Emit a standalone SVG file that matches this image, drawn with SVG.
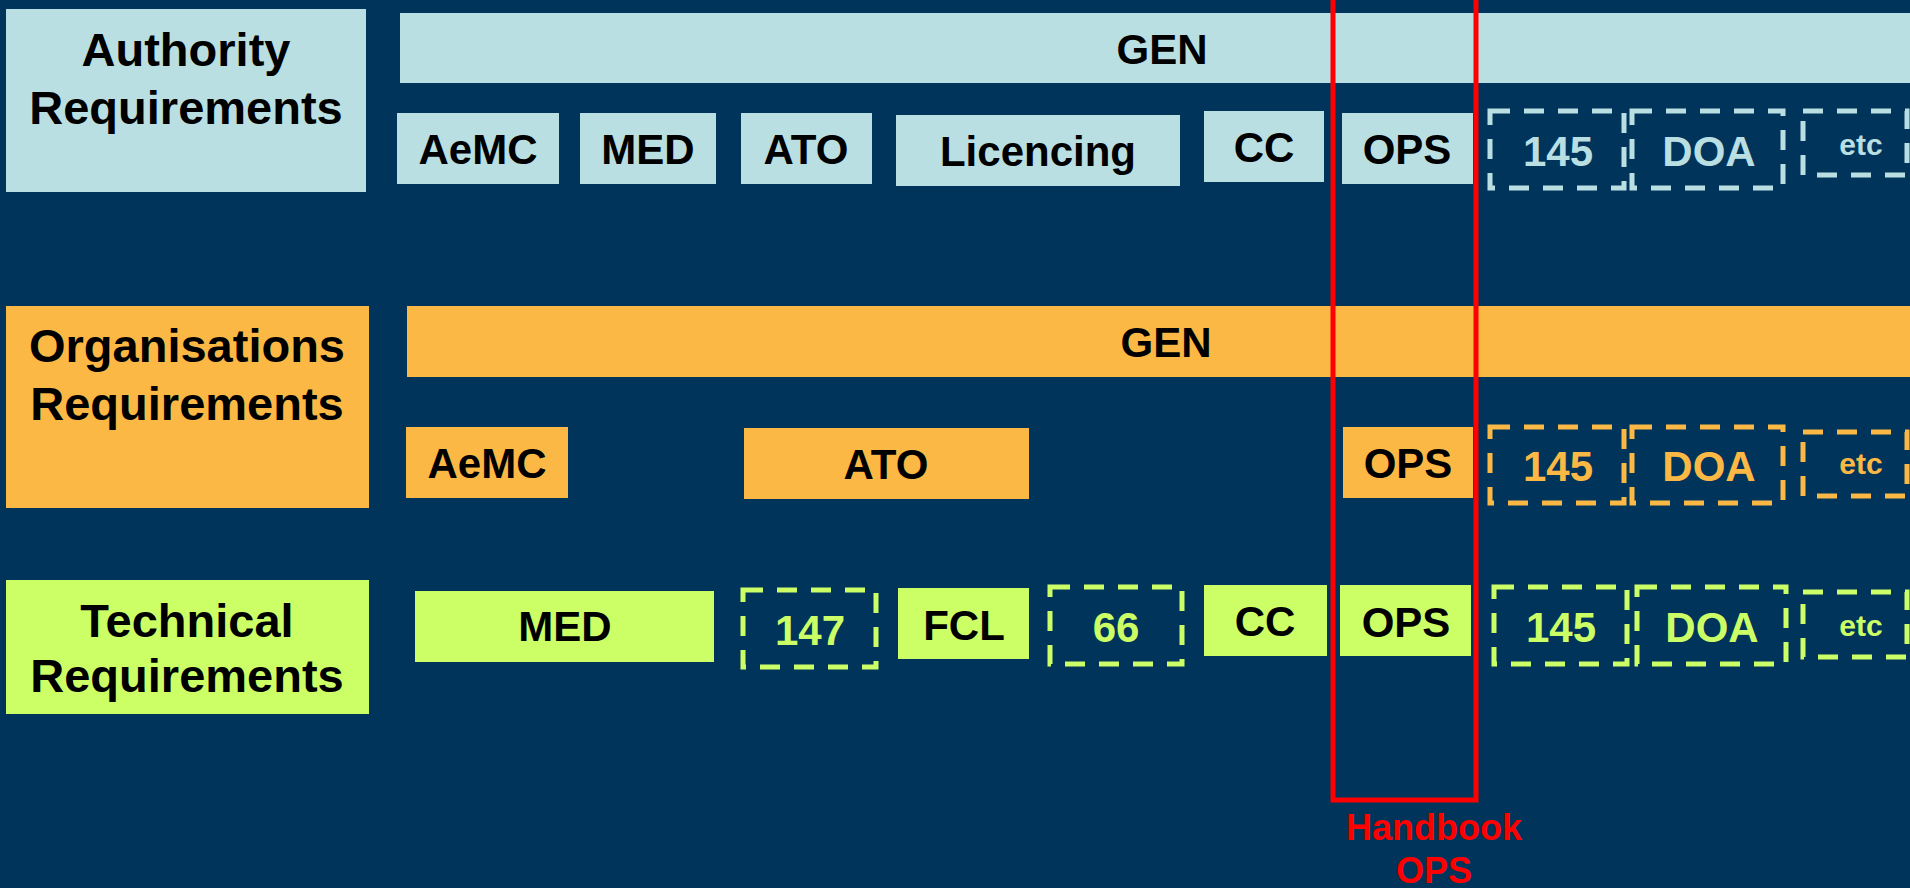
<svg xmlns="http://www.w3.org/2000/svg" width="1910" height="888" viewBox="0 0 1910 888">
<style>
  text { font-family: "Liberation Sans", Arial, sans-serif; font-weight: bold; text-anchor: middle; }
  .lbl { font-size: 47px; fill: #000; }
  .bx { font-size: 42px; fill: #000; }
  .etc { font-size: 30px; }
  .blue { fill: #B9DFE3; }
  .orng { fill: #FCB845; }
  .lime { fill: #CCFF66; }
  .dash { fill: none; stroke-width: 5; stroke-dasharray: 20 14; }
  .dblue { stroke: #B9DFE3; }
  .dorng { stroke: #FCB845; }
  .dlime { stroke: #CCFF66; }
  .tblue { fill: #B9DFE3; }
  .torng { fill: #FCB845; }
  .tlime { fill: #CCFF66; }
</style>
<rect x="0" y="0" width="1910" height="888" fill="#01345A"/>

<!-- Row 1: Authority -->
<g id="authority-label">
  <rect class="blue" x="6" y="9" width="360" height="183"/>
  <text class="lbl" x="186" y="66">Authority</text>
  <text class="lbl" x="186" y="124">Requirements</text>
</g>
<g id="a-gen"><rect class="blue" x="400" y="13" width="1510" height="70"/><text class="bx" x="1162" y="64">GEN</text></g>
<g id="a-aemc"><rect class="blue" x="397" y="113" width="162" height="71"/><text class="bx" x="478" y="164">AeMC</text></g>
<g id="a-med"><rect class="blue" x="580" y="113" width="136" height="71"/><text class="bx" x="648" y="164">MED</text></g>
<g id="a-ato"><rect class="blue" x="741" y="113" width="131" height="71"/><text class="bx" x="806" y="164">ATO</text></g>
<g id="a-lic"><rect class="blue" x="896" y="115" width="284" height="71"/><text class="bx" x="1038" y="166">Licencing</text></g>
<g id="a-cc"><rect class="blue" x="1204" y="111" width="120" height="71"/><text class="bx" x="1264" y="162">CC</text></g>
<g id="a-ops"><rect class="blue" x="1342" y="113" width="131" height="71"/><text class="bx" x="1407" y="164">OPS</text></g>
<g id="a-145"><rect class="dash dblue" x="1490" y="111" width="134" height="77"/><text class="bx tblue" x="1558" y="166">145</text></g>
<g id="a-doa"><rect class="dash dblue" x="1632" y="111" width="151" height="77"/><text class="bx tblue" x="1709" y="166">DOA</text></g>
<g id="a-etc"><rect class="dash dblue" x="1803" y="111" width="104" height="64"/><text class="bx etc tblue" x="1861" y="155">etc</text></g>

<!-- Row 2: Organisations -->
<g id="org-label">
  <rect class="orng" x="6" y="306" width="363" height="202"/>
  <text class="lbl" x="187" y="362">Organisations</text>
  <text class="lbl" x="187" y="420">Requirements</text>
</g>
<g id="o-gen"><rect class="orng" x="407" y="306" width="1503" height="71"/><text class="bx" x="1166" y="357">GEN</text></g>
<g id="o-aemc"><rect class="orng" x="406" y="427" width="162" height="71"/><text class="bx" x="487" y="478">AeMC</text></g>
<g id="o-ato"><rect class="orng" x="744" y="428" width="285" height="71"/><text class="bx" x="886" y="479">ATO</text></g>
<g id="o-ops"><rect class="orng" x="1343" y="427" width="130" height="71"/><text class="bx" x="1408" y="478">OPS</text></g>
<g id="o-145"><rect class="dash dorng" x="1490" y="427" width="134" height="76"/><text class="bx torng" x="1558" y="481">145</text></g>
<g id="o-doa"><rect class="dash dorng" x="1632" y="427" width="151" height="76"/><text class="bx torng" x="1709" y="481">DOA</text></g>
<g id="o-etc"><rect class="dash dorng" x="1803" y="432" width="104" height="64"/><text class="bx etc torng" x="1861" y="474">etc</text></g>

<!-- Row 3: Technical -->
<g id="tech-label">
  <rect class="lime" x="6" y="580" width="363" height="134"/>
  <text class="lbl" x="187" y="637">Technical</text>
  <text class="lbl" x="187" y="692">Requirements</text>
</g>
<g id="t-med"><rect class="lime" x="415" y="591" width="299" height="71"/><text class="bx" x="565" y="641">MED</text></g>
<g id="t-147"><rect class="dash dlime" x="743" y="590" width="133" height="77"/><text class="bx tlime" x="810" y="645">147</text></g>
<g id="t-fcl"><rect class="lime" x="898" y="588" width="131" height="71"/><text class="bx" x="964" y="640">FCL</text></g>
<g id="t-66"><rect class="dash dlime" x="1050" y="587" width="132" height="77"/><text class="bx tlime" x="1116" y="642">66</text></g>
<g id="t-cc"><rect class="lime" x="1204" y="585" width="123" height="71"/><text class="bx" x="1265" y="636">CC</text></g>
<g id="t-ops"><rect class="lime" x="1340" y="585" width="131" height="71"/><text class="bx" x="1406" y="637">OPS</text></g>
<g id="t-145"><rect class="dash dlime" x="1494" y="587" width="133" height="77"/><text class="bx tlime" x="1561" y="642">145</text></g>
<g id="t-doa"><rect class="dash dlime" x="1637" y="587" width="149" height="77"/><text class="bx tlime" x="1712" y="642">DOA</text></g>
<g id="t-etc"><rect class="dash dlime" x="1803" y="592" width="104" height="65"/><text class="bx etc tlime" x="1861" y="636">etc</text></g>

<!-- Handbook OPS highlight -->
<g id="handbook-ops">
  <rect x="1333" y="-10" width="143" height="810" fill="none" stroke="#FF0000" stroke-width="5"/>
  <text x="1434" y="840" font-size="36" fill="#FF0000">Handbook</text>
  <text x="1434" y="883" font-size="36" fill="#FF0000">OPS</text>
</g>
<g id="connectors"></g>
</svg>
